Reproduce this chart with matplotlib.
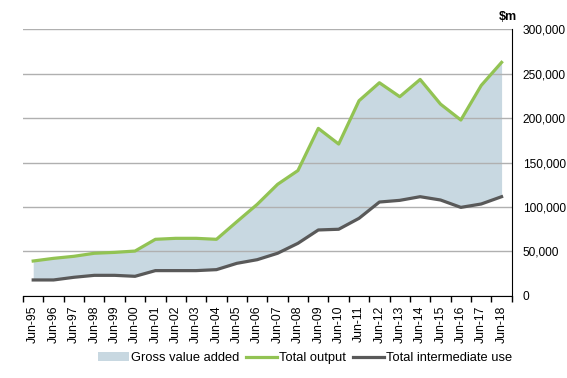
import numpy as np
import matplotlib
matplotlib.use('Agg')
import matplotlib.pyplot as plt
from matplotlib.patches import Patch
from matplotlib.lines import Line2D
from matplotlib.ticker import FuncFormatter

plt.rcParams['font.family'] = ['Liberation Sans', 'DejaVu Sans']

years = ['Jun-95', 'Jun-96', 'Jun-97', 'Jun-98', 'Jun-99', 'Jun-00', 'Jun-01', 'Jun-02',
         'Jun-03', 'Jun-04', 'Jun-05', 'Jun-06', 'Jun-07', 'Jun-08', 'Jun-09', 'Jun-10',
         'Jun-11', 'Jun-12', 'Jun-13', 'Jun-14', 'Jun-15', 'Jun-16', 'Jun-17', 'Jun-18']
total_output = [39300, 42300, 44600, 48000, 49000, 50500, 63700, 64800,
                64800, 63700, 83500, 103000, 125500, 141000, 188400, 170800,
                219500, 239700, 224000, 243400, 215700, 197800, 236700, 262600]
intermediate = [18000, 18000, 21000, 23200, 23200, 22100, 28500, 28500,
                28500, 29600, 36700, 40800, 48000, 59200, 74200, 75000,
                87300, 105600, 107500, 111600, 107900, 99600, 103400, 111600]

green = '#92C353'
grey = '#595959'
fill_c = '#C8D8E1'

fig = plt.figure(figsize=(5.67, 3.78), dpi=100)
ax = fig.add_axes([0.0406, 0.217, 0.862, 0.706])

x = np.arange(len(years))
ax.fill_between(x, intermediate, total_output, color=fill_c, lw=0, zorder=1)
ax.plot(x, total_output, color=green, lw=2.3, zorder=3)
ax.plot(x, intermediate, color=grey, lw=2.3, zorder=3)

ax.set_xlim(-0.5, len(years) - 0.5)
ax.set_ylim(0, 300000)
ax.set_yticks(np.arange(0, 300001, 50000))
ax.yaxis.set_major_formatter(FuncFormatter(lambda v, p: f'{int(v):,}'))
ax.yaxis.tick_right()
ax.tick_params(axis='y', length=0, labelsize=8.6, pad=8)
ax.grid(axis='y', color='#B0B0B0', lw=1, zorder=0)

ax.set_xticks(x)
ax.set_xticklabels(years, rotation=90, fontsize=8.8)
ax.set_xticks(np.arange(-0.5, len(years)), minor=True)
ax.tick_params(axis='x', which='major', length=0, pad=7)
ax.tick_params(axis='x', which='minor', length=4, width=1, color='black', direction='out')

for s in ['top', 'left']:
    ax.spines[s].set_visible(False)
ax.spines['right'].set_color('black')
ax.spines['bottom'].set_color('black')

fig.text(508 / 567, 1 - 17 / 378, '$m', fontsize=9, fontweight='bold', ha='center', va='center')

handles = [Patch(facecolor=fill_c, edgecolor='none'),
           Line2D([0], [0], color=green, lw=2.3),
           Line2D([0], [0], color=grey, lw=2.3)]
fig.legend(handles, ['Gross value added', 'Total output', 'Total intermediate use'],
           loc='center', bbox_to_anchor=(305 / 567, 1 - 358 / 378), ncol=3, frameon=False,
           fontsize=9.3, handlelength=2.4, handletextpad=0.2, columnspacing=0.5)

fig.savefig('out.png', dpi=100)
